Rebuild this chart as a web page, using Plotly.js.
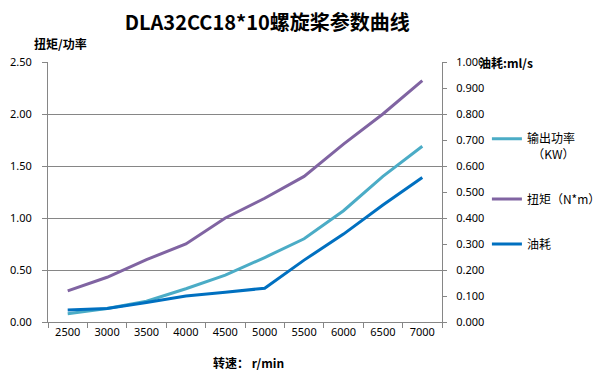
<!DOCTYPE html>
<html><head><meta charset="utf-8">
<script src="https://cdn.plot.ly/plotly-3.0.1.min.js"></script>
<style>html,body{margin:0;padding:0;background:#fff}</style>
</head><body>
<div id="chart" style="width:598px;height:381px"></div>
<script>
const speeds = ["2500","3000","3500","4000","4500","5000","5500","6000","6500","7000"];
const power = [0.08,0.13,0.20,0.32,0.45,0.62,0.80,1.07,1.40,1.69];
const torque = [0.30,0.43,0.60,0.75,1.00,1.19,1.40,1.71,2.00,2.32];
const fuel = [0.046,0.052,0.075,0.100,0.114,0.130,0.238,0.338,0.450,0.556];
const names = ["输出功率<br>  （KW）","扭矩（N*m）","油耗"];
const colors = ["#4BACC6","#8064A2","#0070C0"];

const F = "Noto Sans, 'Noto Sans CJK SC', sans-serif";
const traces = [
  {x:speeds,y:power,name:names[0],type:"scatter",mode:"lines",line:{color:colors[0],width:3},legendgroup:"a"},
  {x:speeds,y:torque,name:names[1],type:"scatter",mode:"lines",line:{color:colors[1],width:3},legendgroup:"b"},
  {x:speeds,y:fuel,name:names[2],type:"scatter",mode:"lines",line:{color:colors[2],width:3},yaxis:"y2",legendgroup:"c"}
];
const layout = {
  width:598,height:381,
  margin:{l:47.5,r:156,t:61.7,b:59,autoexpand:false},
  paper_bgcolor:"#fff",plot_bgcolor:"#fff",
  font:{family:F,size:11,color:"#000"},
  title:{text:"<b>DLA32CC18*10螺旋桨参数曲线</b>",font:{family:"'Noto Sans CJK SC', sans-serif",size:20,color:"#000"},xref:"container",x:0.447,xanchor:"center",yref:"container",y:0.94,yanchor:"middle"},
  xaxis:{type:"category",range:[-0.5,9.5],tickson:"boundaries",ticks:"outside",ticklen:5,tickcolor:"#868686",
    showline:true,linecolor:"#868686",linewidth:1,showgrid:false,zeroline:false,tickfont:{size:11,family:F}},
  yaxis:{range:[0,2.5],dtick:0.5,tickformat:".2f",ticks:"outside",ticklen:5,tickcolor:"#868686",
    showline:true,linecolor:"#868686",showgrid:true,gridcolor:"#868686",gridwidth:1,zeroline:false,
    ticklabelstandoff:8,tickfont:{size:11,family:F}},
  yaxis2:{overlaying:"y",side:"right",range:[0,1],dtick:0.1,tickformat:".3f",ticks:"outside",ticklen:4,tickcolor:"#868686",
    showline:true,linecolor:"#868686",showgrid:false,zeroline:false,ticklabelstandoff:7,tickfont:{size:11,family:F}},
  showlegend:true,
  legend:{xref:"paper",yref:"paper",x:1.114,xanchor:"left",y:0.76,yanchor:"top",valign:"top",
    font:{family:"'Noto Sans CJK SC', sans-serif",size:12,color:"#000"},tracegroupgap:26,itemwidth:30,bgcolor:"rgba(0,0,0,0)"},
  annotations:[
    {text:"<b>扭矩/功率</b>",xref:"paper",yref:"paper",x:-0.04,y:1.07,xanchor:"left",yanchor:"middle",showarrow:false,font:{family:"'Noto Sans CJK SC', sans-serif",size:12}},
    {text:"<b>油耗:ml/s</b>",xref:"paper",yref:"paper",x:1.09,y:1.0,xanchor:"left",yanchor:"middle",showarrow:false,font:{family:"'Noto Sans CJK SC', sans-serif",size:12}},
    {text:"<b>转速： r/min</b>",xref:"paper",yref:"paper",x:0.51,y:-0.155,xanchor:"center",yanchor:"middle",showarrow:false,font:{family:"'Noto Sans CJK SC', sans-serif",size:12}}
  ]
};
Plotly.newPlot("chart",traces,layout,{displayModeBar:false,staticPlot:true});
</script>
</body></html>
